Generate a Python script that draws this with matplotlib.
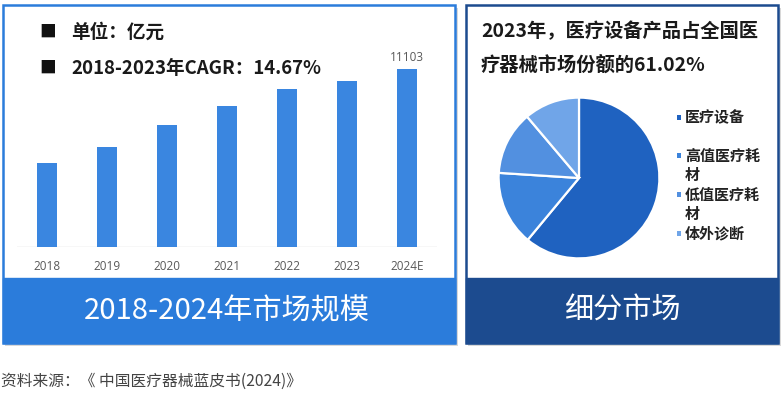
import matplotlib
matplotlib.use("Agg")
import matplotlib.pyplot as plt
from matplotlib.patches import Rectangle

plt.rcParams['font.family'] = ['Noto Sans CJK SC', 'DejaVu Sans']

# ---------------- data ----------------
years = ["2018", "2019", "2020", "2021", "2022", "2023", "2024E"]
market_size = [5230, 6240, 7610, 8800, 9860, 10360, 11103]
labelled_year = "2024E"

segments = ["医疗设备", "高值医疗耗材", "低值医疗耗材", "体外诊断"]
shares = [61.02, 15.0, 12.8, 11.18]
seg_colors = ["#1F62C0", "#3B83DB", "#5290E0", "#70A5E8"]

left_notes = ["单位：亿元", "2018-2023年CAGR：14.67%"]
left_title = "2018-2024年市场规模"
right_heading = ["2023年，医疗设备产品占全国医", "疗器械市场份额的61.02%"]
right_title = "细分市场"
source = "资料来源：《 中国医疗器械蓝皮书(2024)》"

# ---------------- figure ----------------
W, H = 781, 394
fig = plt.figure(figsize=(W / 100, H / 100), dpi=100)
fig.patch.set_facecolor("white")


def box(x0, y0, x1, y1):
    """pixel box (top-left origin) -> figure fraction [l, b, w, h]"""
    return [x0 / W, 1 - y1 / H, (x1 - x0) / W, (y1 - y0) / H]


def fx(x):
    return x / W


def fy(y):
    return 1 - y / H


def rect(x0, y0, x1, y1, **kw):
    l, b, w, h = box(x0, y0, x1, y1)
    fig.patches.append(Rectangle((l, b), w, h, transform=fig.transFigure, **kw))


BLUE = "#2B7CDB"
NAVY = "#1C4B8F"

# shadows
rect(5, 8, 458, 346, facecolor="#d8d8d8", edgecolor="none", zorder=0)
rect(468, 8, 781, 346, facecolor="#d8d8d8", edgecolor="none", zorder=0)
# left panel
rect(3, 5, 455, 343, facecolor="white", edgecolor=BLUE, linewidth=1.8, zorder=1)
rect(3, 278, 455, 343, facecolor=BLUE, edgecolor=BLUE, linewidth=1.0, zorder=1)
# right panel
rect(466, 5, 778, 343, facecolor="white", edgecolor=NAVY, linewidth=1.8, zorder=1)
rect(466, 278, 778, 343, facecolor=NAVY, edgecolor=NAVY, linewidth=1.0, zorder=1)

# ---------------- bar chart ----------------
ax = fig.add_axes(box(17, 55, 437, 247))
ax.set_zorder(3)
ax.patch.set_alpha(0)
x = list(range(len(years)))
ax.bar(x, market_size, width=0.32, color="#3A86E0", zorder=3)
ax.set_xlim(-0.5, len(years) - 0.5)
ax.set_ylim(0, 12000)
for s in ax.spines.values():
    s.set_visible(False)
ax.axhline(0, color="#D9D9D9", linewidth=1.0, zorder=2)
ax.set_yticks([])
ax.set_xticks(x)
ax.set_xticklabels(years, fontsize=8.5, color="#595959", family=["Open Sans", "DejaVu Sans"])
ax.tick_params(axis="x", length=0, pad=9)
for xi, yr, v in zip(x, years, market_size):
    if yr == labelled_year:
        ax.text(xi, v + 350, f"{v}", ha="center", va="bottom", fontsize=8.5,
                color="#595959", family=["Open Sans", "DejaVu Sans"])

# notes
for i, note in enumerate(left_notes):
    yy = 32 + 36 * i
    fig.text(fx(39), fy(yy), "■", fontsize=12, color="#111111", va="center", ha="left", zorder=5)
    fig.text(fx(71), fy(yy), note, fontsize=13.4, fontweight="bold", color="#1a1a1a",
             va="center", ha="left", zorder=5)

fig.text(fx(227), fy(311), left_title, fontsize=21, color="white", ha="center",
         va="center", zorder=5)

# ---------------- pie chart ----------------
cx, cy, r = 579, 178, 82
pax = fig.add_axes(box(cx - r, cy - r, cx + r, cy + r))
pax.set_zorder(3)
pax.pie(shares, colors=seg_colors, startangle=90, counterclock=False, radius=1.0,
        wedgeprops=dict(edgecolor="white", linewidth=1.6))
pax.set_xlim(-1.02, 1.02)
pax.set_ylim(-1.02, 1.02)
pax.set_aspect("equal")

for i, line in enumerate(right_heading):
    fig.text(fx(481), fy(31 + 34 * i), line, fontsize=13.9, fontweight="bold",
             color="#1a1a1a", ha="left", va="center", zorder=5)

# legend (manual)
for i, (lab, col) in enumerate(zip(segments, seg_colors)):
    yy = 117 + 38.7 * i
    txt = lab if len(lab) <= 5 else lab[:5] + "\n" + lab[5:]
    fig.patches.append(Rectangle((fx(677), fy(yy + 2.5)), 4 / W, 5 / H,
                                 transform=fig.transFigure, facecolor=col,
                                 edgecolor="none", zorder=5))
    fig.text(fx(685), fy(yy - 8), txt, fontsize=10.8, fontweight="bold", color="#222222",
             ha="left", va="top", linespacing=1.25, zorder=5)

fig.text(fx(622), fy(311), right_title, fontsize=21, color="white", ha="center",
         va="center", zorder=5)

# source
fig.text(fx(1), fy(381), source, fontsize=11.3, color="#444444", ha="left", va="center")

fig.savefig("out.png", dpi=100, facecolor="white")
